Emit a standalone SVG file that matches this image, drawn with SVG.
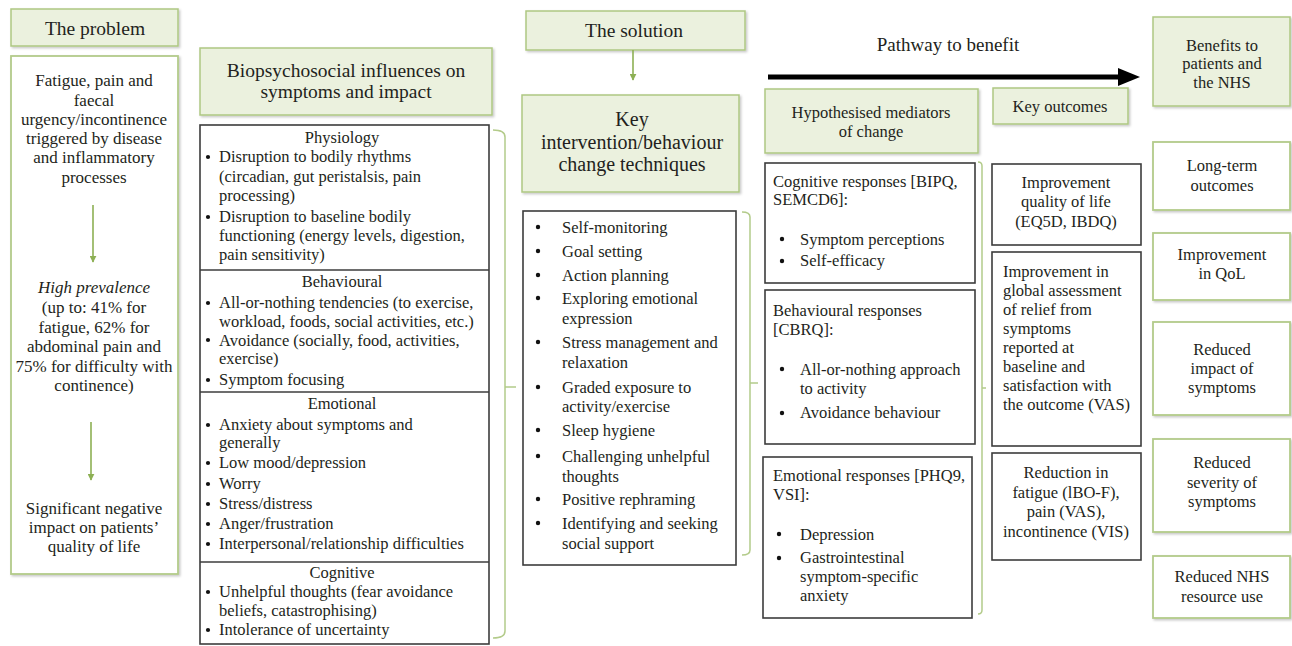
<svg xmlns="http://www.w3.org/2000/svg" width="1292" height="646" viewBox="0 0 1292 646" font-family="'Liberation Serif', serif">
<style>
text{font-family:"Liberation Serif","Times New Roman",serif;fill:#231f20;font-size:16.5px}
.c{text-anchor:middle}
text.h{font-size:19.5px}
text.p{font-size:17px}
text.k{font-size:20px}
text.pw{font-size:19px}
.hdr{fill:#ebf1de;stroke:#aec782;stroke-width:1.5}
.gbox{fill:#fff;stroke:#b3cb8a;stroke-width:1.8}
.bbox{fill:#fff;stroke:#3c3c3c;stroke-width:1.6}
.brace{fill:none;stroke:#b3cb8a;stroke-width:1.5}
.garrow{stroke:#8db054;stroke-width:1.6;fill:none}
</style>
<defs>
<filter id="sh" x="-5%" y="-5%" width="115%" height="120%">
<feDropShadow dx="1.5" dy="1.5" stdDeviation="1" flood-color="#000" flood-opacity="0.22"/>
</filter>
<marker id="gh" viewBox="0 0 10 10" refX="9" refY="5" markerWidth="7" markerHeight="7" markerUnits="userSpaceOnUse" orient="auto">
<path d="M0,0 L10,5 L0,10 z" fill="#8db054"/>
</marker>
</defs>
<rect width="1292" height="646" fill="#fff"/>

<g id="problem-header">
<rect class="hdr" x="11" y="9" width="167" height="37" filter="url(#sh)"/>
<text class="c h" x="95" y="35">The problem</text>
</g>

<g id="problem-box">
<rect class="gbox" x="11" y="56" width="167" height="518" filter="url(#sh)"/>
<text class="c p" x="94" y="86">Fatigue, pain and</text>
<text class="c p" x="94" y="106">faecal</text>
<text class="c p" x="94" y="125">urgency/incontinence</text>
<text class="c p" x="94" y="144">triggered by disease</text>
<text class="c p" x="94" y="163">and inflammatory</text>
<text class="c p" x="94" y="183">processes</text>
<text class="c p" x="94" y="293" font-style="italic">High prevalence</text>
<text class="c p" x="94" y="313">(up to: 41% for</text>
<text class="c p" x="94" y="333">fatigue, 62% for</text>
<text class="c p" x="94" y="352">abdominal pain and</text>
<text class="c p" x="94" y="372">75% for difficulty with</text>
<text class="c p" x="94" y="391">continence)</text>
<text class="c p" x="94" y="514">Significant negative</text>
<text class="c p" x="94" y="533">impact on patients’</text>
<text class="c p" x="94" y="552">quality of life</text>
</g>

<g id="biopsychosocial-header">
<rect class="hdr" x="200" y="48" width="292" height="67" filter="url(#sh)"/>
<text class="c h" x="346" y="77">Biopsychosocial influences on</text>
<text class="c h" x="346" y="98">symptoms and impact</text>
</g>

<g id="influences-box">
<rect class="bbox" x="200" y="125" width="289" height="519"/>
<line x1="200" y1="270" x2="489" y2="270" stroke="#3c3c3c" stroke-width="1.4"/>
<line x1="200" y1="392" x2="489" y2="392" stroke="#3c3c3c" stroke-width="1.4"/>
<line x1="200" y1="562" x2="489" y2="562" stroke="#3c3c3c" stroke-width="1.4"/>
<g fill="#111">
<circle cx="208" cy="157" r="2.1"/><circle cx="208" cy="217" r="2.1"/>
<circle cx="208" cy="303" r="2.1"/><circle cx="208" cy="340" r="2.1"/><circle cx="208" cy="380" r="2.1"/>
<circle cx="208" cy="425" r="2.1"/><circle cx="208" cy="463" r="2.1"/><circle cx="208" cy="484" r="2.1"/><circle cx="208" cy="504" r="2.1"/><circle cx="208" cy="524" r="2.1"/><circle cx="208" cy="544" r="2.1"/>
<circle cx="208" cy="592" r="2.1"/><circle cx="208" cy="630" r="2.1"/>
</g>
<text class="c" x="342" y="143">Physiology</text>
<text x="219" y="162">Disruption to bodily rhythms</text>
<text x="219" y="182">(circadian, gut peristalsis, pain</text>
<text x="219" y="201">processing)</text>
<text x="219" y="222">Disruption to baseline bodily</text>
<text x="219" y="241">functioning (energy levels, digestion,</text>
<text x="219" y="260">pain sensitivity)</text>
<text class="c" x="342" y="287">Behavioural</text>
<text x="219" y="308">All-or-nothing tendencies (to exercise,</text>
<text x="219" y="327">workload, foods, social activities, etc.)</text>
<text x="219" y="346">Avoidance (socially, food, activities,</text>
<text x="219" y="364">exercise)</text>
<text x="219" y="385">Symptom focusing</text>
<text class="c" x="342" y="409">Emotional</text>
<text x="219" y="430">Anxiety about symptoms and</text>
<text x="219" y="448">generally</text>
<text x="219" y="468">Low mood/depression</text>
<text x="219" y="489">Worry</text>
<text x="219" y="509">Stress/distress</text>
<text x="219" y="529">Anger/frustration</text>
<text x="219" y="549">Interpersonal/relationship difficulties</text>
<text class="c" x="342" y="578">Cognitive</text>
<text x="219" y="597">Unhelpful thoughts (fear avoidance</text>
<text x="219" y="616">beliefs, catastrophising)</text>
<text x="219" y="635">Intolerance of uncertainty</text>
</g>

<g id="solution-header">
<rect class="hdr" x="526" y="11" width="219" height="39" filter="url(#sh)"/>
<text class="c h" x="634" y="37">The solution</text>
</g>

<g id="key-intervention-header">
<rect class="hdr" x="522" y="95" width="217" height="97" filter="url(#sh)"/>
<text class="c k" x="632" y="126">Key</text>
<text class="c k" x="632" y="149">intervention/behaviour</text>
<text class="c k" x="632" y="171">change techniques</text>
</g>

<g id="techniques-box">
<rect class="bbox" x="523" y="211" width="213" height="354"/>
<g fill="#111">
<circle cx="538" cy="227" r="2.2"/><circle cx="538" cy="251" r="2.2"/><circle cx="538" cy="275" r="2.2"/><circle cx="538" cy="298" r="2.2"/><circle cx="538" cy="342" r="2.2"/><circle cx="538" cy="387" r="2.2"/><circle cx="538" cy="430" r="2.2"/><circle cx="538" cy="456" r="2.2"/><circle cx="538" cy="499" r="2.2"/><circle cx="538" cy="523" r="2.2"/>
</g>
<text x="562" y="233">Self-monitoring</text>
<text x="562" y="257">Goal setting</text>
<text x="562" y="281">Action planning</text>
<text x="562" y="304">Exploring emotional</text>
<text x="562" y="324">expression</text>
<text x="562" y="348">Stress management and</text>
<text x="562" y="368">relaxation</text>
<text x="562" y="393">Graded exposure to</text>
<text x="562" y="412">activity/exercise</text>
<text x="562" y="436">Sleep hygiene</text>
<text x="562" y="462">Challenging unhelpful</text>
<text x="562" y="482">thoughts</text>
<text x="562" y="505">Positive rephraming</text>
<text x="562" y="529">Identifying and seeking</text>
<text x="562" y="549">social support</text>
</g>

<g id="pathway-label">
<text class="c pw" x="948" y="51">Pathway to benefit</text>
</g>

<g id="mediators-header">
<rect class="hdr" x="765" y="89" width="213" height="64" filter="url(#sh)"/>
<text class="c" x="871" y="118">Hypothesised mediators</text>
<text class="c" x="871" y="137">of change</text>
</g>

<g id="key-outcomes-header">
<rect class="hdr" x="993" y="88" width="135" height="36" filter="url(#sh)"/>
<text class="c" x="1060" y="112">Key outcomes</text>
</g>

<g id="benefits-header">
<rect class="hdr" x="1153" y="17" width="137" height="89" filter="url(#sh)"/>
<text class="c" x="1222" y="51">Benefits to</text>
<text class="c" x="1222" y="69">patients and</text>
<text class="c" x="1222" y="88">the NHS</text>
</g>

<g id="cognitive-responses">
<rect class="bbox" x="765" y="163" width="210" height="120"/>
<text x="773" y="187">Cognitive responses [BIPQ,</text>
<text x="773" y="205">SEMCD6]:</text>
<circle cx="782" cy="239" r="2.2" fill="#111"/><circle cx="782" cy="261" r="2.2" fill="#111"/>
<text x="800" y="245">Symptom perceptions</text>
<text x="800" y="266">Self-efficacy</text>
</g>

<g id="behavioural-responses">
<rect class="bbox" x="765" y="290" width="210" height="154"/>
<text x="773" y="316">Behavioural responses</text>
<text x="773" y="335">[CBRQ]:</text>
<circle cx="782" cy="369" r="2.2" fill="#111"/><circle cx="782" cy="413" r="2.2" fill="#111"/>
<text x="800" y="375">All-or-nothing approach</text>
<text x="800" y="394">to activity</text>
<text x="800" y="418">Avoidance behaviour</text>
</g>

<g id="emotional-responses">
<rect class="bbox" x="763" y="457" width="209" height="161"/>
<text x="773" y="481">Emotional responses [PHQ9,</text>
<text x="773" y="500">VSI]:</text>
<circle cx="779" cy="534" r="2.2" fill="#111"/><circle cx="779" cy="558" r="2.2" fill="#111"/>
<text x="800" y="540">Depression</text>
<text x="800" y="563">Gastrointestinal</text>
<text x="800" y="582">symptom-specific</text>
<text x="800" y="601">anxiety</text>
</g>

<g id="outcome-qol">
<rect class="bbox" x="992" y="164" width="149" height="81"/>
<text class="c" x="1066" y="188">Improvement</text>
<text class="c" x="1066" y="207">quality of life</text>
<text class="c" x="1066" y="227">(EQ5D, IBDQ)</text>
</g>

<g id="outcome-global">
<rect class="bbox" x="992" y="252" width="149" height="194"/>
<text x="1003" y="277">Improvement in</text>
<text x="1003" y="296">global assessment</text>
<text x="1003" y="315">of relief from</text>
<text x="1003" y="334">symptoms</text>
<text x="1003" y="353">reported at</text>
<text x="1003" y="372">baseline and</text>
<text x="1003" y="391">satisfaction with</text>
<text x="1003" y="410">the outcome (VAS)</text>
</g>

<g id="outcome-reduction">
<rect class="bbox" x="992" y="453" width="149" height="107"/>
<text class="c" x="1066" y="478">Reduction in</text>
<text class="c" x="1066" y="498">fatigue (lBO-F),</text>
<text class="c" x="1066" y="517">pain (VAS),</text>
<text class="c" x="1066" y="537">incontinence (VIS)</text>
</g>

<g id="benefit-longterm">
<rect class="gbox" x="1153" y="142" width="137" height="68" filter="url(#sh)"/>
<text class="c" x="1222" y="171">Long-term</text>
<text class="c" x="1222" y="191">outcomes</text>
</g>
<g id="benefit-qol">
<rect class="gbox" x="1153" y="233" width="137" height="67" filter="url(#sh)"/>
<text class="c" x="1222" y="260">Improvement</text>
<text class="c" x="1222" y="279">in QoL</text>
</g>
<g id="benefit-impact">
<rect class="gbox" x="1153" y="322" width="137" height="93" filter="url(#sh)"/>
<text class="c" x="1222" y="355">Reduced</text>
<text class="c" x="1222" y="374">impact of</text>
<text class="c" x="1222" y="393">symptoms</text>
</g>
<g id="benefit-severity">
<rect class="gbox" x="1153" y="439" width="137" height="93" filter="url(#sh)"/>
<text class="c" x="1222" y="468">Reduced</text>
<text class="c" x="1222" y="488">severity of</text>
<text class="c" x="1222" y="507">symptoms</text>
</g>
<g id="benefit-nhs">
<rect class="gbox" x="1153" y="556" width="137" height="62" filter="url(#sh)"/>
<text class="c" x="1222" y="582">Reduced NHS</text>
<text class="c" x="1222" y="602">resource use</text>
</g>

<g id="connectors">
<line class="garrow" x1="93" y1="205" x2="93" y2="262" marker-end="url(#gh)"/>
<line class="garrow" x1="91" y1="422" x2="91" y2="480" marker-end="url(#gh)"/>
<line class="garrow" x1="633" y1="50" x2="633" y2="80" marker-end="url(#gh)"/>
<line x1="768" y1="77" x2="1122" y2="77" stroke="#000" stroke-width="5"/>
<polygon points="1118,68 1140,77 1118,86" fill="#000"/>
<path class="brace" d="M493,130 Q505,130 505,137 V631 Q505,638 493,638 M505,387 H516"/>
<path class="brace" d="M742,212 Q750,212 750,217 V550 Q750,555 742,555 M750,383 H758"/>
<path class="brace" d="M978,162 Q982,162 982,166 V610 Q982,614 978,614 M982,388 H986"/>
</g>
</svg>
